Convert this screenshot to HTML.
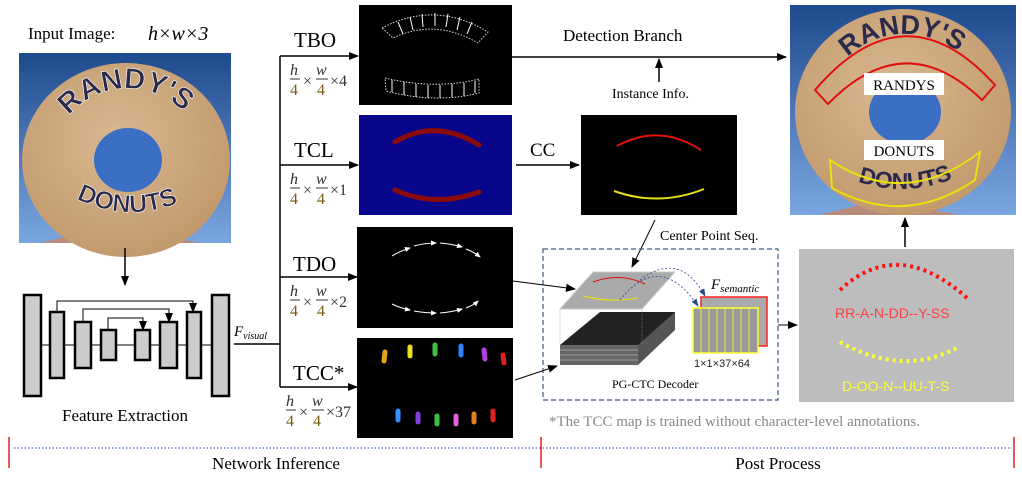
<!DOCTYPE html>
<html><head><meta charset="utf-8"><style>
html,body{margin:0;padding:0;background:#fff;}
svg{display:block;font-family:"Liberation Serif",serif;}
.s{font-family:"Liberation Sans",sans-serif;}
</style></head><body>
<svg width="1022" height="477" viewBox="0 0 1022 477" xmlns="http://www.w3.org/2000/svg">
<defs>
<marker id="a" markerWidth="10" markerHeight="8" refX="9" refY="4" orient="auto" markerUnits="userSpaceOnUse"><path d="M0,0 L10,4 L0,8 z" fill="#000"/></marker>
<marker id="ab" markerWidth="8" markerHeight="6" refX="7" refY="3" orient="auto" markerUnits="userSpaceOnUse"><path d="M0,0 L8,3 L0,6 z" fill="#2a4a8a"/></marker>
<marker id="aw" markerWidth="6" markerHeight="5" refX="5" refY="2.5" orient="auto" markerUnits="userSpaceOnUse"><path d="M0,0 L6,2.5 L0,5 z" fill="#fff"/></marker>
<linearGradient id="sky" x1="0" y1="0" x2="0" y2="1"><stop offset="0" stop-color="#1e4a8e"/><stop offset="1" stop-color="#7aa6e0"/></linearGradient>
<radialGradient id="dn" cx="0.45" cy="0.4" r="0.6"><stop offset="0" stop-color="#d9b890"/><stop offset="1" stop-color="#c29a6e"/></radialGradient>
<path id="tp1" d="M52,165 A76,74 0 0 1 204,160"/>
<path id="tp2" d="M60,190 Q128,232 195,195"/>
<path id="tp3" d="M826,112 A80,74 0 0 1 986,104"/>
<path id="tp4" d="M835,172 Q905,208 975,168"/>
</defs>

<text x="28" y="39" font-size="17">Input Image:</text>
<text x="148" y="40" font-size="20" font-style="italic">h×w×3</text>
<rect x="19" y="53" width="212" height="190" fill="url(#sky)"/>
<path d="M40,243 L110,226 L200,243 z" fill="#b98a7a"/>
<ellipse cx="126" cy="160" rx="104" ry="97" fill="url(#dn)"/>
<ellipse cx="128" cy="160" rx="34" ry="32" fill="#3a6fc4"/>
<text font-size="29" font-weight="bold" fill="#2a2a4a" class="s" stroke="#fff" stroke-width="0.6" text-anchor="middle"><textPath href="#tp1" startOffset="50%">RANDY'S</textPath></text>
<text font-size="25" font-weight="bold" fill="#2a2a4a" class="s" stroke="#fff" stroke-width="0.6" text-anchor="middle"><textPath href="#tp2" startOffset="50%">DONUTS</textPath></text>
<line x1="125" y1="248" x2="125" y2="285" stroke="#000" stroke-width="1.5" marker-end="url(#a)"/>

<g stroke="#000" stroke-width="2" fill="none">
<line x1="30" y1="345" x2="220" y2="345" stroke-width="1"/>
<polyline points="57,312 57,301 193,301 193,312" stroke-width="1" marker-end="url(#a)"/>
<polyline points="83,322 83,309 169,309 169,322" stroke-width="1" marker-end="url(#a)"/>
<polyline points="108,330 108,318 143,318 143,330" stroke-width="1" marker-end="url(#a)"/>
</g>
<g fill="#ccc" stroke="#000" stroke-width="2.5">
<rect x="24" y="295" width="17" height="101"/>
<rect x="50" y="312" width="14" height="66"/>
<rect x="75" y="322" width="16" height="46"/>
<rect x="101" y="330" width="15" height="30"/>
<rect x="135" y="330" width="15" height="30"/>
<rect x="160" y="322" width="17" height="46"/>
<rect x="187" y="312" width="14" height="66"/>
<rect x="212" y="295" width="17" height="101"/>
</g>
<text x="125" y="421" font-size="17" text-anchor="middle">Feature Extraction</text>
<text x="234" y="336" font-size="15" font-style="italic">F<tspan font-size="10" dy="3">visual</tspan></text>
<line x1="234" y1="344" x2="280" y2="344" stroke="#000" stroke-width="1.5"/>
<polyline points="280,387 280,56" fill="none" stroke="#000" stroke-width="1.5"/>
<g stroke="#000" stroke-width="1.5" marker-end="url(#a)">
<line x1="280" y1="56" x2="358" y2="56"/>
<line x1="280" y1="165" x2="358" y2="165"/>
<line x1="280" y1="277" x2="357" y2="277"/>
<line x1="280" y1="387" x2="357" y2="387"/>
</g>
<g font-size="21">
<text x="294" y="47">TBO</text>
<text x="294" y="157">TCL</text>
<text x="293" y="271">TDO</text>
<text x="293" y="380">TCC*</text>
</g>
<g font-size="16" fill="#333">
<g transform="translate(290,65)"><text x="0" y="10" font-style="italic">h</text><line x1="0" y1="14" x2="10" y2="14" stroke="#333"/><text x="0" y="30" fill="#7a5a10">4</text><text x="13" y="21">×</text><text x="26" y="10" font-style="italic">w</text><line x1="26" y1="14" x2="38" y2="14" stroke="#333"/><text x="27" y="30" fill="#7a5a10">4</text><text x="40" y="21">×4</text></g>
<g transform="translate(290,174)"><text x="0" y="10" font-style="italic">h</text><line x1="0" y1="14" x2="10" y2="14" stroke="#333"/><text x="0" y="30" fill="#7a5a10">4</text><text x="13" y="21">×</text><text x="26" y="10" font-style="italic">w</text><line x1="26" y1="14" x2="38" y2="14" stroke="#333"/><text x="27" y="30" fill="#7a5a10">4</text><text x="40" y="21">×1</text></g>
<g transform="translate(290,286)"><text x="0" y="10" font-style="italic">h</text><line x1="0" y1="14" x2="10" y2="14" stroke="#333"/><text x="0" y="30" fill="#7a5a10">4</text><text x="13" y="21">×</text><text x="26" y="10" font-style="italic">w</text><line x1="26" y1="14" x2="38" y2="14" stroke="#333"/><text x="27" y="30" fill="#7a5a10">4</text><text x="40" y="21">×2</text></g>
<g transform="translate(286,396)"><text x="0" y="10" font-style="italic">h</text><line x1="0" y1="14" x2="10" y2="14" stroke="#333"/><text x="0" y="30" fill="#7a5a10">4</text><text x="13" y="21">×</text><text x="26" y="10" font-style="italic">w</text><line x1="26" y1="14" x2="38" y2="14" stroke="#333"/><text x="27" y="30" fill="#7a5a10">4</text><text x="40" y="21">×37</text></g>
</g>

<rect x="359" y="5" width="153" height="100" fill="#000"/>
<g fill="none" stroke="#ddd" stroke-width="1" stroke-dasharray="1.5,1.5">
<path d="M382,28 Q435,0 488,32 L478,43 Q435,18 393,38 z"/>
<path d="M385,78 Q435,90 479,79 L479,93 Q435,104 386,91 z"/>
</g>
<g stroke="#fff" stroke-width="1">
<line x1="398" y1="22" x2="403" y2="34"/><line x1="410" y1="17" x2="413" y2="30"/><line x1="422" y1="14" x2="423" y2="27"/><line x1="435" y1="13" x2="435" y2="26"/><line x1="448" y1="14" x2="446" y2="27"/><line x1="460" y1="17" x2="457" y2="30"/><line x1="472" y1="22" x2="467" y2="34"/>
<line x1="392" y1="80" x2="392" y2="92"/><line x1="404" y1="82" x2="404" y2="95"/><line x1="416" y1="84" x2="416" y2="97"/><line x1="428" y1="85" x2="428" y2="98"/><line x1="440" y1="85" x2="440" y2="98"/><line x1="452" y1="84" x2="452" y2="97"/><line x1="464" y1="83" x2="464" y2="96"/><line x1="475" y1="81" x2="475" y2="93"/>
</g>
<rect x="359" y="115" width="153" height="100" fill="#08068a"/>
<path d="M395,142 Q435,118 479,145" fill="none" stroke="#8b0a0a" stroke-width="5" stroke-linecap="round"/>
<path d="M395,190 Q435,208 479,192" fill="none" stroke="#8b0a0a" stroke-width="5" stroke-linecap="round"/>
<rect x="357" y="227" width="156" height="101" fill="#000"/>
<g fill="none" stroke="#fff" stroke-width="1" marker-end="url(#aw)">
<path d="M392,256 Q400,251 410,248"/><path d="M414,246 Q425,243 436,243"/><path d="M440,243 Q452,244 462,247"/><path d="M466,249 Q474,252 480,257"/>
<path d="M392,304 Q400,308 410,310"/><path d="M414,311 Q425,313 436,313"/><path d="M440,313 Q452,312 462,309"/><path d="M466,308 Q474,305 478,301"/>
</g>
<rect x="357" y="338" width="156" height="100" fill="#000"/>
<g stroke-width="5" stroke-linecap="round">
<line x1="385" y1="352" x2="384" y2="361" stroke="#e8a020"/><line x1="410" y1="347" x2="410" y2="356" stroke="#e8e020"/><line x1="435" y1="345" x2="435" y2="354" stroke="#40c040"/><line x1="461" y1="346" x2="461" y2="355" stroke="#3080ff"/><line x1="484" y1="350" x2="485" y2="359" stroke="#b040e0"/><line x1="503" y1="355" x2="504" y2="363" stroke="#e02020"/>
<line x1="398" y1="411" x2="398" y2="420" stroke="#3090ff"/><line x1="418" y1="414" x2="418" y2="422" stroke="#8040e0"/><line x1="437" y1="416" x2="437" y2="424" stroke="#40c040"/><line x1="456" y1="416" x2="456" y2="424" stroke="#e060e0"/><line x1="474" y1="414" x2="474" y2="422" stroke="#e08020"/><line x1="493" y1="411" x2="493" y2="420" stroke="#e02020"/>
</g>

<text x="530" y="156" font-size="19">CC</text>
<line x1="516" y1="165" x2="579" y2="165" stroke="#000" stroke-width="1.5" marker-end="url(#a)"/>
<rect x="581" y="115" width="156" height="100" fill="#000"/>
<path d="M617,146 Q659,123 701,150" fill="none" stroke="#e01010" stroke-width="2"/>
<path d="M614,191 Q659,207 704,189" fill="none" stroke="#e8e010" stroke-width="2"/>
<line x1="512" y1="57" x2="786" y2="57" stroke="#000" stroke-width="1.5" marker-end="url(#a)"/>
<text x="563" y="41" font-size="17">Detection Branch</text>
<line x1="659" y1="82" x2="659" y2="59" stroke="#000" stroke-width="1.5" marker-end="url(#a)"/>
<text x="612" y="98" font-size="14">Instance Info.</text>
<text x="660" y="240" font-size="14">Center Point Seq.</text>
<line x1="655" y1="220" x2="632" y2="267" stroke="#000" stroke-width="1" marker-end="url(#a)"/>

<rect x="790" y="5" width="226" height="210" fill="url(#sky)"/>
<path d="M820,215 L880,200 L960,215 z" fill="#b98a7a"/>
<ellipse cx="903" cy="112" rx="108" ry="103" fill="url(#dn)"/>
<ellipse cx="905" cy="112" rx="36" ry="32" fill="#3a6fc4"/>
<text font-size="27" font-weight="bold" fill="#2a2a4a" class="s" text-anchor="middle"><textPath href="#tp3" startOffset="50%">RANDY'S</textPath></text>
<text font-size="23" font-weight="bold" fill="#2a2a4a" class="s" text-anchor="middle"><textPath href="#tp4" startOffset="50%">DONUTS</textPath></text>
<path d="M815,90 Q905,-15 995,85 L982,100 Q905,25 828,104 z" fill="none" stroke="#e01010" stroke-width="2"/>
<path d="M830,160 Q905,210 980,152 L975,180 Q905,228 832,188 z" fill="none" stroke="#e8e010" stroke-width="2"/>
<rect x="864" y="73" width="80" height="22" fill="#fff"/>
<text x="904" y="90" font-size="15" text-anchor="middle">RANDYS</text>
<rect x="864" y="140" width="80" height="20" fill="#fff"/>
<text x="904" y="156" font-size="15" text-anchor="middle">DONUTS</text>
<line x1="905" y1="247" x2="905" y2="218" stroke="#000" stroke-width="1.5" marker-end="url(#a)"/>

<rect x="799" y="249" width="215" height="153" fill="#bdbdbd"/>
<path d="M840,290 Q898,236 967,298" fill="none" stroke="#ff1010" stroke-width="4" stroke-dasharray="3,4"/>
<path d="M840,342 Q905,378 960,346" fill="none" stroke="#ffff30" stroke-width="4" stroke-dasharray="3,4"/>
<text x="835" y="318" font-size="14" class="s" fill="#ff4040">RR-A-N-DD--Y-SS</text>
<text x="842" y="391" font-size="14" class="s" fill="#ffff30">D-OO-N--UU-T-S</text>
<line x1="778" y1="325" x2="797" y2="325" stroke="#000" stroke-width="1" marker-end="url(#a)"/>

<rect x="543" y="249" width="235" height="151" fill="none" stroke="#3a5a8a" stroke-width="1.2" stroke-dasharray="5,3"/>
<line x1="513" y1="281" x2="575" y2="289" stroke="#000" stroke-width="1" marker-end="url(#a)"/>
<line x1="515" y1="380" x2="557" y2="366" stroke="#000" stroke-width="1" marker-end="url(#a)"/>
<rect x="560" y="345" width="78" height="20" fill="#666"/>
<g stroke="#999" stroke-width="1"><line x1="560" y1="350" x2="638" y2="350"/><line x1="560" y1="355" x2="638" y2="355"/><line x1="560" y1="360" x2="638" y2="360"/></g>
<path d="M560,345 L600,312 L675,312 L675,330 L638,345 z" fill="#222"/>
<path d="M638,345 L675,312 L675,330 L638,365 z" fill="#555"/>
<path d="M560,309 L593,272 L675,272 L642,309 z" fill="#aaa" stroke="#ccc" stroke-width="1"/>
<line x1="560" y1="309" x2="560" y2="345" stroke="#999" stroke-width="0.6" stroke-dasharray="1,1"/>
<line x1="642" y1="309" x2="642" y2="345" stroke="#999" stroke-width="0.6" stroke-dasharray="1,1"/>
<path d="M593,282 Q620,272 645,284" fill="none" stroke="#e01010" stroke-width="1"/>
<path d="M583,296 Q610,303 637,298" fill="none" stroke="#e8e010" stroke-width="1.2"/>
<path d="M640,280 Q680,250 705,296" fill="none" stroke="#2a4a8a" stroke-width="0.8" stroke-dasharray="2,2" marker-end="url(#ab)"/>
<path d="M620,300 Q660,250 698,306" fill="none" stroke="#2a4a8a" stroke-width="0.8" stroke-dasharray="2,2" marker-end="url(#ab)"/>
<rect x="701" y="297" width="66" height="49" fill="#aaa" stroke="#ff2020" stroke-width="1.5"/>
<rect x="693" y="308" width="65" height="45" fill="#999" stroke="#ffff30" stroke-width="1.5"/>
<g stroke="#ffff30" stroke-width="0.8"><line x1="701" y1="308" x2="701" y2="353"/><line x1="709" y1="308" x2="709" y2="353"/><line x1="717" y1="308" x2="717" y2="353"/><line x1="725" y1="308" x2="725" y2="353"/><line x1="733" y1="308" x2="733" y2="353"/><line x1="741" y1="308" x2="741" y2="353"/><line x1="749" y1="308" x2="749" y2="353"/></g>
<text x="711" y="289" font-size="15" font-style="italic">F<tspan font-size="11" dy="3">semantic</tspan></text>
<text x="694" y="367" font-size="11" class="s" fill="#222">1×1×37×64</text>
<text x="612" y="388" font-size="12">PG-CTC Decoder</text>

<text x="549" y="426" font-size="15" fill="#888">*The TCC map is trained without character-level annotations.</text>

<line x1="14" y1="448" x2="1012" y2="448" stroke="#4a6ab0" stroke-width="1.2" stroke-dasharray="1.5,2"/>
<g stroke="#e02020" stroke-width="1.5"><line x1="9" y1="437" x2="9" y2="468"/><line x1="541" y1="437" x2="541" y2="468"/><line x1="1014" y1="437" x2="1014" y2="468"/></g>
<text x="276" y="469" font-size="17" text-anchor="middle">Network Inference</text>
<text x="778" y="469" font-size="17" text-anchor="middle">Post Process</text>
</svg>
</body></html>
